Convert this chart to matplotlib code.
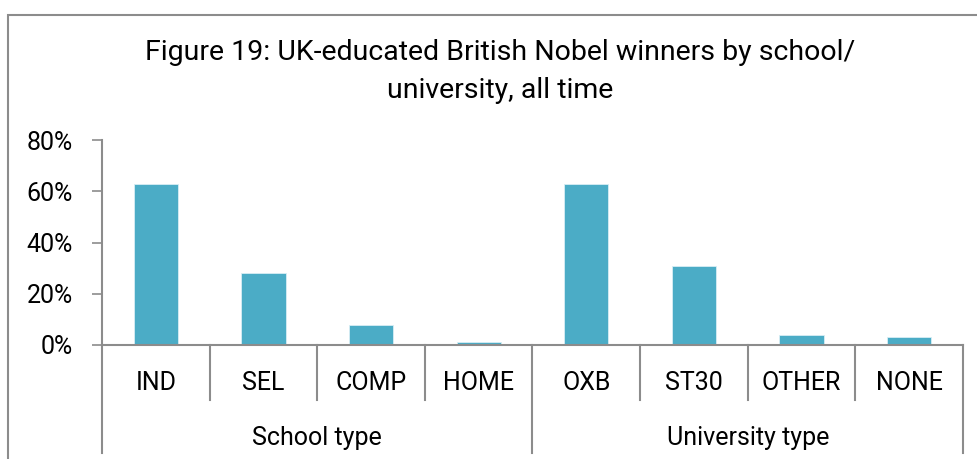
import matplotlib
matplotlib.use('Agg')
import matplotlib.pyplot as plt
from matplotlib.patches import Rectangle
from matplotlib.ticker import FuncFormatter

plt.rcParams['font.family'] = ['Roboto', 'DejaVu Sans']

# data (share of UK-educated British Nobel winners, %)
categories = ['IND', 'SEL', 'COMP', 'HOME', 'OXB', 'ST30', 'OTHER', 'NONE']
values = [63, 28, 8, 1, 63, 31, 4, 3]
groups = ['School type', 'University type']
group_sizes = [4, 4]

BAR = '#4BACC6'
GREY = '#8C8C8C'

W, H = 978, 459
fig = plt.figure(figsize=(W / 100, H / 100), dpi=100)

# outer chart border (right/bottom run off the image)
fig.patches.append(Rectangle((8 / W, -0.1), 1.2, (H - 15) / H + 0.1,
                             transform=fig.transFigure, fill=False,
                             edgecolor=GREY, linewidth=1.5))

ax = fig.add_axes([102 / W, (H - 345) / H, (963 - 102) / W, 205 / H])
x = range(len(categories))
ax.bar(x, values, width=0.41, color=BAR, edgecolor='#d8eef4', linewidth=0.6, zorder=2)
ax.set_xlim(-0.5, len(categories) - 0.5)
ax.set_ylim(0, 80)
ax.set_yticks([0, 20, 40, 60, 80])
ax.yaxis.set_major_formatter(FuncFormatter(lambda v, p: f'{v:.0f}%'))
ax.tick_params(axis='y', length=7, width=1.2, color=GREY, labelsize=18, pad=14)
ax.set_xticks([])
for s in ['top', 'right']:
    ax.spines[s].set_visible(False)
for s in ['left', 'bottom']:
    ax.spines[s].set_color(GREY)
    ax.spines[s].set_linewidth(1.5)

tr = ax.get_xaxis_transform()
tick_bot = -(400 - 345) / 205
grp_bot = -(453 - 345) / 205

# category labels and separators
for i, c in enumerate(categories):
    ax.text(i, -(383 - 345) / 205, c, transform=tr, ha='center', va='center', fontsize=18)
bounds = [-0.5]
for g in group_sizes:
    bounds.append(bounds[-1] + g)
for k in range(len(categories) + 1):
    b = k - 0.5
    y0 = grp_bot if b in bounds else tick_bot
    ax.plot([b, b], [0, y0], transform=tr, color=GREY, linewidth=1.5, clip_on=False)

# group labels
for gi, g in enumerate(groups):
    mid = (bounds[gi] + bounds[gi + 1]) / 2
    ax.text(mid, -(438 - 345) / 205, g, transform=tr, ha='center', va='center', fontsize=18)

fig.text(500 / W, 1 - 52 / H, 'Figure 19: UK-educated British Nobel winners by school/',
         ha='center', va='center', fontsize=20.5)
fig.text(500 / W, 1 - 90 / H, 'university, all time', ha='center', va='center', fontsize=20.5)

fig.savefig('out.png', dpi=100)
